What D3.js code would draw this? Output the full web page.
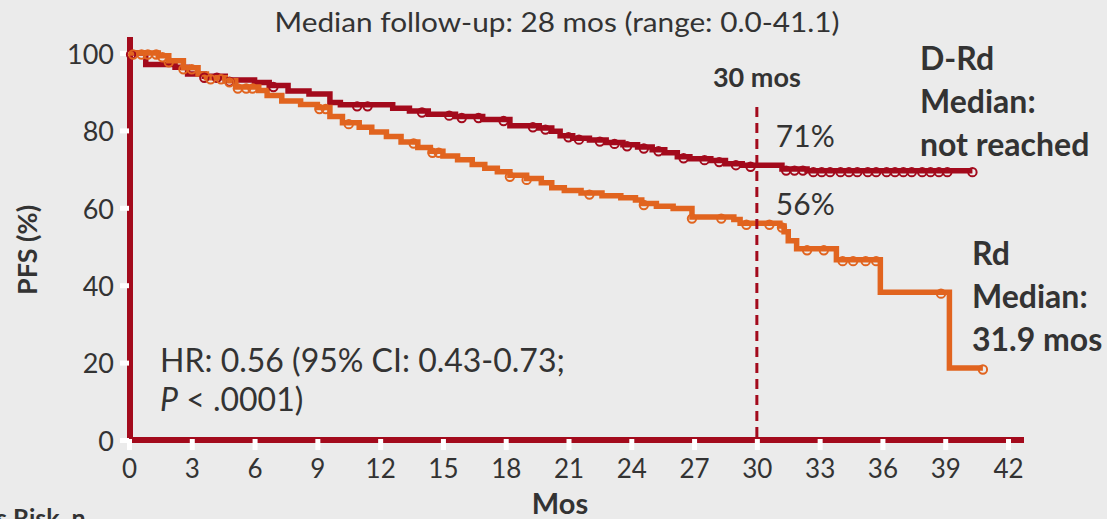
<!DOCTYPE html>
<html>
<head>
<meta charset="utf-8">
<script src="https://cdn.jsdelivr.net/npm/d3@7"></script>
<style>
  html, body { margin: 0; padding: 0; background: #ebebeb; }
  svg { display: block; font-family: Lato, "Open Sans", sans-serif; }
</style>
</head>
<body>
<svg id="chart" width="1107" height="519"></svg>
<script>
// ---- Data ---------------------------------------------------------------
const monthTicks = [0, 3, 6, 9, 12, 15, 18, 21, 24, 27, 30, 33, 36, 39, 42];
const pfsTicks = [0, 20, 40, 60, 80, 100];

// D-Rd Kaplan-Meier steps (months, PFS %)
const drdTimes = [0, 0.8, 2.2, 2.8, 3.6, 4.6, 6.0, 6.7, 7.6, 8.6, 9.6, 10.1, 12.6, 13.4, 14.3,
  15.6, 16.9, 18.2, 19.6, 20.2, 20.6, 21.2, 22.0, 22.8, 23.6, 24.3, 25.0, 25.6, 26.2, 26.8,
  27.8, 28.5, 29.3, 31.2, 32.4];
const drdPfs = [100, 97.0, 96.3, 94.6, 94.0, 93.0, 92.4, 91.6, 90.2, 89.4, 87.2, 86.6, 85.7, 85.0, 84.2,
  83.6, 82.8, 81.2, 80.6, 79.8, 78.6, 78.0, 77.5, 76.9, 76.3, 75.7, 75.0, 74.2, 73.2, 72.7,
  72.2, 71.4, 71.0, 70.0, 69.6];
const drdLastFollowUp = 40.3;
const drdCensored = [0.1, 3.6, 4.2, 4.8, 6.9, 10.9, 11.4, 14.0, 15.3, 15.9, 16.7, 17.9, 19.3, 19.9,
  21.0, 21.5, 22.5, 23.2, 23.8, 24.6, 25.3, 26.5, 27.5, 28.2, 29.0, 29.7, 31.4, 31.8, 32.2, 32.7,
  33.1, 33.5, 34.0, 34.4, 34.8, 35.3, 35.7, 36.2, 36.6, 37.0, 37.4, 37.9, 38.3, 38.7, 39.1, 40.3];

// Rd Kaplan-Meier steps (months, PFS %)
const rdTimes = [0, 1.4, 1.9, 2.6, 3.3, 3.7, 4.6, 5.1, 6.2, 6.6, 7.3, 8.2, 9.0, 9.6, 10.2, 11.0,
  11.6, 12.3, 13.0, 13.8, 14.4, 15.0, 15.7, 16.4, 17.0, 17.6, 18.2, 19.0, 19.7, 20.2, 20.8,
  21.6, 22.6, 23.5, 24.2, 24.5, 25.2, 26.0, 26.9, 28.9, 29.2, 31.1, 31.3, 31.5, 31.9, 33.8,
  35.9, 39.2];
const rdPfs = [100, 99.3, 98.0, 96.2, 94.6, 93.6, 92.8, 91.2, 90.3, 89.0, 87.6, 86.7, 85.9, 83.6, 82.0, 80.8,
  79.6, 78.4, 77.0, 75.6, 74.6, 73.4, 72.4, 71.2, 70.2, 69.3, 68.4, 67.6, 66.5, 65.2, 64.5,
  63.8, 63.1, 62.6, 62.0, 61.1, 60.4, 59.8, 57.6, 57.0, 56.0, 55.3, 53.8, 51.5, 49.4, 46.6,
  38.2, 18.6];
const rdLastFollowUp = 40.8;
const rdCensored = [0.2, 0.6, 0.9, 1.3, 1.6, 1.9, 2.6, 3.0, 3.9, 4.4, 4.8, 5.2, 5.6, 5.9, 9.1, 9.4,
  10.5, 13.6, 14.5, 14.8, 18.2, 19.0, 22.0, 24.6, 26.9, 28.3, 29.5, 30.6, 31.2, 32.4, 33.2,
  34.1, 34.6, 35.2, 35.7, 38.8, 40.8];

const landmarkMonth = 30;
const landmarkDrd = 71;
const landmarkRd = 56;

// ---- Layout -------------------------------------------------------------
const colDrd = "#a30a1c";
const colRd = "#e1641f";
const colAxis = "#a30a1c";
const colText = "#333333";

const svg = d3.select("#chart");
const x = d3.scaleLinear().domain([0, 42]).range([129, 1008]);
const y = d3.scaleLinear().domain([0, 100]).range([440, 53]);

// PFS value at time t for a step curve
function pfsAt(times, vals, t) {
  let v = vals[0];
  for (let i = 0; i < times.length; i++) { if (times[i] <= t) v = vals[i]; }
  return v;
}

function stepPoints(times, vals, end) {
  const pts = times.map((t, i) => [t, vals[i]]);
  pts.push([end, vals[vals.length - 1]]);
  return pts;
}

const line = d3.line()
  .x(d => x(d[0]))
  .y(d => y(d[1]))
  .curve(d3.curveStepAfter);

// ---- Axes ---------------------------------------------------------------
svg.append("line")
  .attr("x1", x(0)).attr("x2", 1024)
  .attr("y1", y(0)).attr("y2", y(0))
  .attr("stroke", colAxis).attr("stroke-width", 6);
svg.append("line")
  .attr("x1", x(0) + 1).attr("x2", x(0) + 1)
  .attr("y1", 37).attr("y2", y(0) + 3)
  .attr("stroke", colAxis).attr("stroke-width", 6);

const xAxis = d3.axisBottom(x).tickValues(monthTicks).tickSize(0).tickPadding(0);
const gx = svg.append("g").attr("transform", `translate(0,${y(0)})`).call(xAxis);
gx.select(".domain").remove();
gx.selectAll(".tick text")
  .attr("y", 38).attr("dy", 0)
  .attr("fill", colText).style("font-size", "26px").style("font-family", "Lato, sans-serif");
gx.selectAll(".tick").append("rect")
  .attr("x", -2.5).attr("y", -1).attr("width", 5).attr("height", 11).attr("fill", "#ffffff");

const yAxis = d3.axisLeft(y).tickValues(pfsTicks).tickSize(0).tickPadding(0);
const gy = svg.append("g").attr("transform", `translate(${x(0)},0)`).call(yAxis);
gy.select(".domain").remove();
gy.selectAll(".tick text")
  .attr("x", -15).attr("dy", "0.38em")
  .attr("fill", colText).style("font-size", "27px").style("font-family", "Lato, sans-serif");
gy.selectAll(".tick").append("rect")
  .attr("x", -9).attr("y", -2.5).attr("width", 9).attr("height", 5).attr("fill", "#ffffff");

// ---- Curves -------------------------------------------------------------
svg.append("path")
  .datum(stepPoints(drdTimes, drdPfs, drdLastFollowUp))
  .attr("d", line).attr("fill", "none")
  .attr("stroke", colDrd).attr("stroke-width", 5.5);

svg.append("path")
  .datum(stepPoints(rdTimes, rdPfs, rdLastFollowUp))
  .attr("d", line).attr("fill", "none")
  .attr("stroke", colRd).attr("stroke-width", 5.5);

svg.append("g").selectAll("circle")
  .data(drdCensored).join("circle")
  .attr("cx", d => x(d)).attr("cy", d => y(pfsAt(drdTimes, drdPfs, d)) + 1.5)
  .attr("r", 4.2).attr("fill", "none")
  .attr("stroke", colDrd).attr("stroke-width", 2);

svg.append("g").selectAll("circle")
  .data(rdCensored).join("circle")
  .attr("cx", d => x(d)).attr("cy", d => y(pfsAt(rdTimes, rdPfs, d)) + 1.5)
  .attr("r", 4.2).attr("fill", "none")
  .attr("stroke", colRd).attr("stroke-width", 2);

// ---- Landmark at 30 months ----------------------------------------------
svg.append("line")
  .attr("x1", x(landmarkMonth)).attr("x2", x(landmarkMonth))
  .attr("y1", 107).attr("y2", y(0))
  .attr("stroke", colAxis).attr("stroke-width", 3)
  .attr("stroke-dasharray", "10,6");

svg.append("text")
  .attr("x", x(landmarkMonth)).attr("y", 87)
  .attr("text-anchor", "middle").attr("fill", colText)
  .style("font-size", "27px").style("font-weight", "bold")
  .text(landmarkMonth + " mos");

svg.append("text")
  .attr("x", x(landmarkMonth) + 19).attr("y", 147)
  .attr("fill", colText).style("font-size", "30px")
  .text(landmarkDrd + "%");

svg.append("text")
  .attr("x", x(landmarkMonth) + 19).attr("y", 215)
  .attr("fill", colText).style("font-size", "30px")
  .text(landmarkRd + "%");

// ---- Titles and annotations ---------------------------------------------
svg.append("text")
  .attr("x", 557).attr("y", 32)
  .attr("text-anchor", "middle").attr("fill", colText)
  .attr("textLength", 565).attr("lengthAdjust", "spacingAndGlyphs")
  .style("font-size", "27px").style("font-family", "'Liberation Sans Narrow', Lato, sans-serif")
  .text("Median follow-up: 28 mos (range: 0.0-41.1)");

svg.append("text")
  .attr("transform", "translate(37,250) rotate(-90)")
  .attr("text-anchor", "middle").attr("fill", colText)
  .style("font-size", "27px").style("font-weight", "bold")
  .text("PFS (%)");

svg.append("text")
  .attr("x", 560).attr("y", 514)
  .attr("text-anchor", "middle").attr("fill", colText)
  .style("font-size", "29px").style("font-weight", "bold")
  .text("Mos");

svg.append("text")
  .attr("x", -4).attr("y", 527)
  .attr("fill", colText)
  .style("font-size", "25px").style("font-weight", "bold")
  .text("s Risk, n");

const hr = svg.append("text").attr("fill", colText).style("font-size", "32px");
hr.append("tspan").attr("x", 160).attr("y", 372).text("HR: 0.56 (95% CI: 0.43-0.73;");
hr.append("tspan").attr("x", 160).attr("y", 411).style("font-style", "italic").text("P");
hr.append("tspan").text(" < .0001)");

function block(lines, x0, y0, step) {
  const t = svg.append("text").attr("fill", colText)
    .style("font-size", "32px").style("font-weight", "bold");
  lines.forEach((s, i) => t.append("tspan").attr("x", x0).attr("y", y0 + i * step).text(s));
}
block(["D-Rd", "Median:", "not reached"], 920, 70, 43);
block(["Rd", "Median:", "31.9 mos"], 972, 265, 43);
</script>
</body>
</html>
